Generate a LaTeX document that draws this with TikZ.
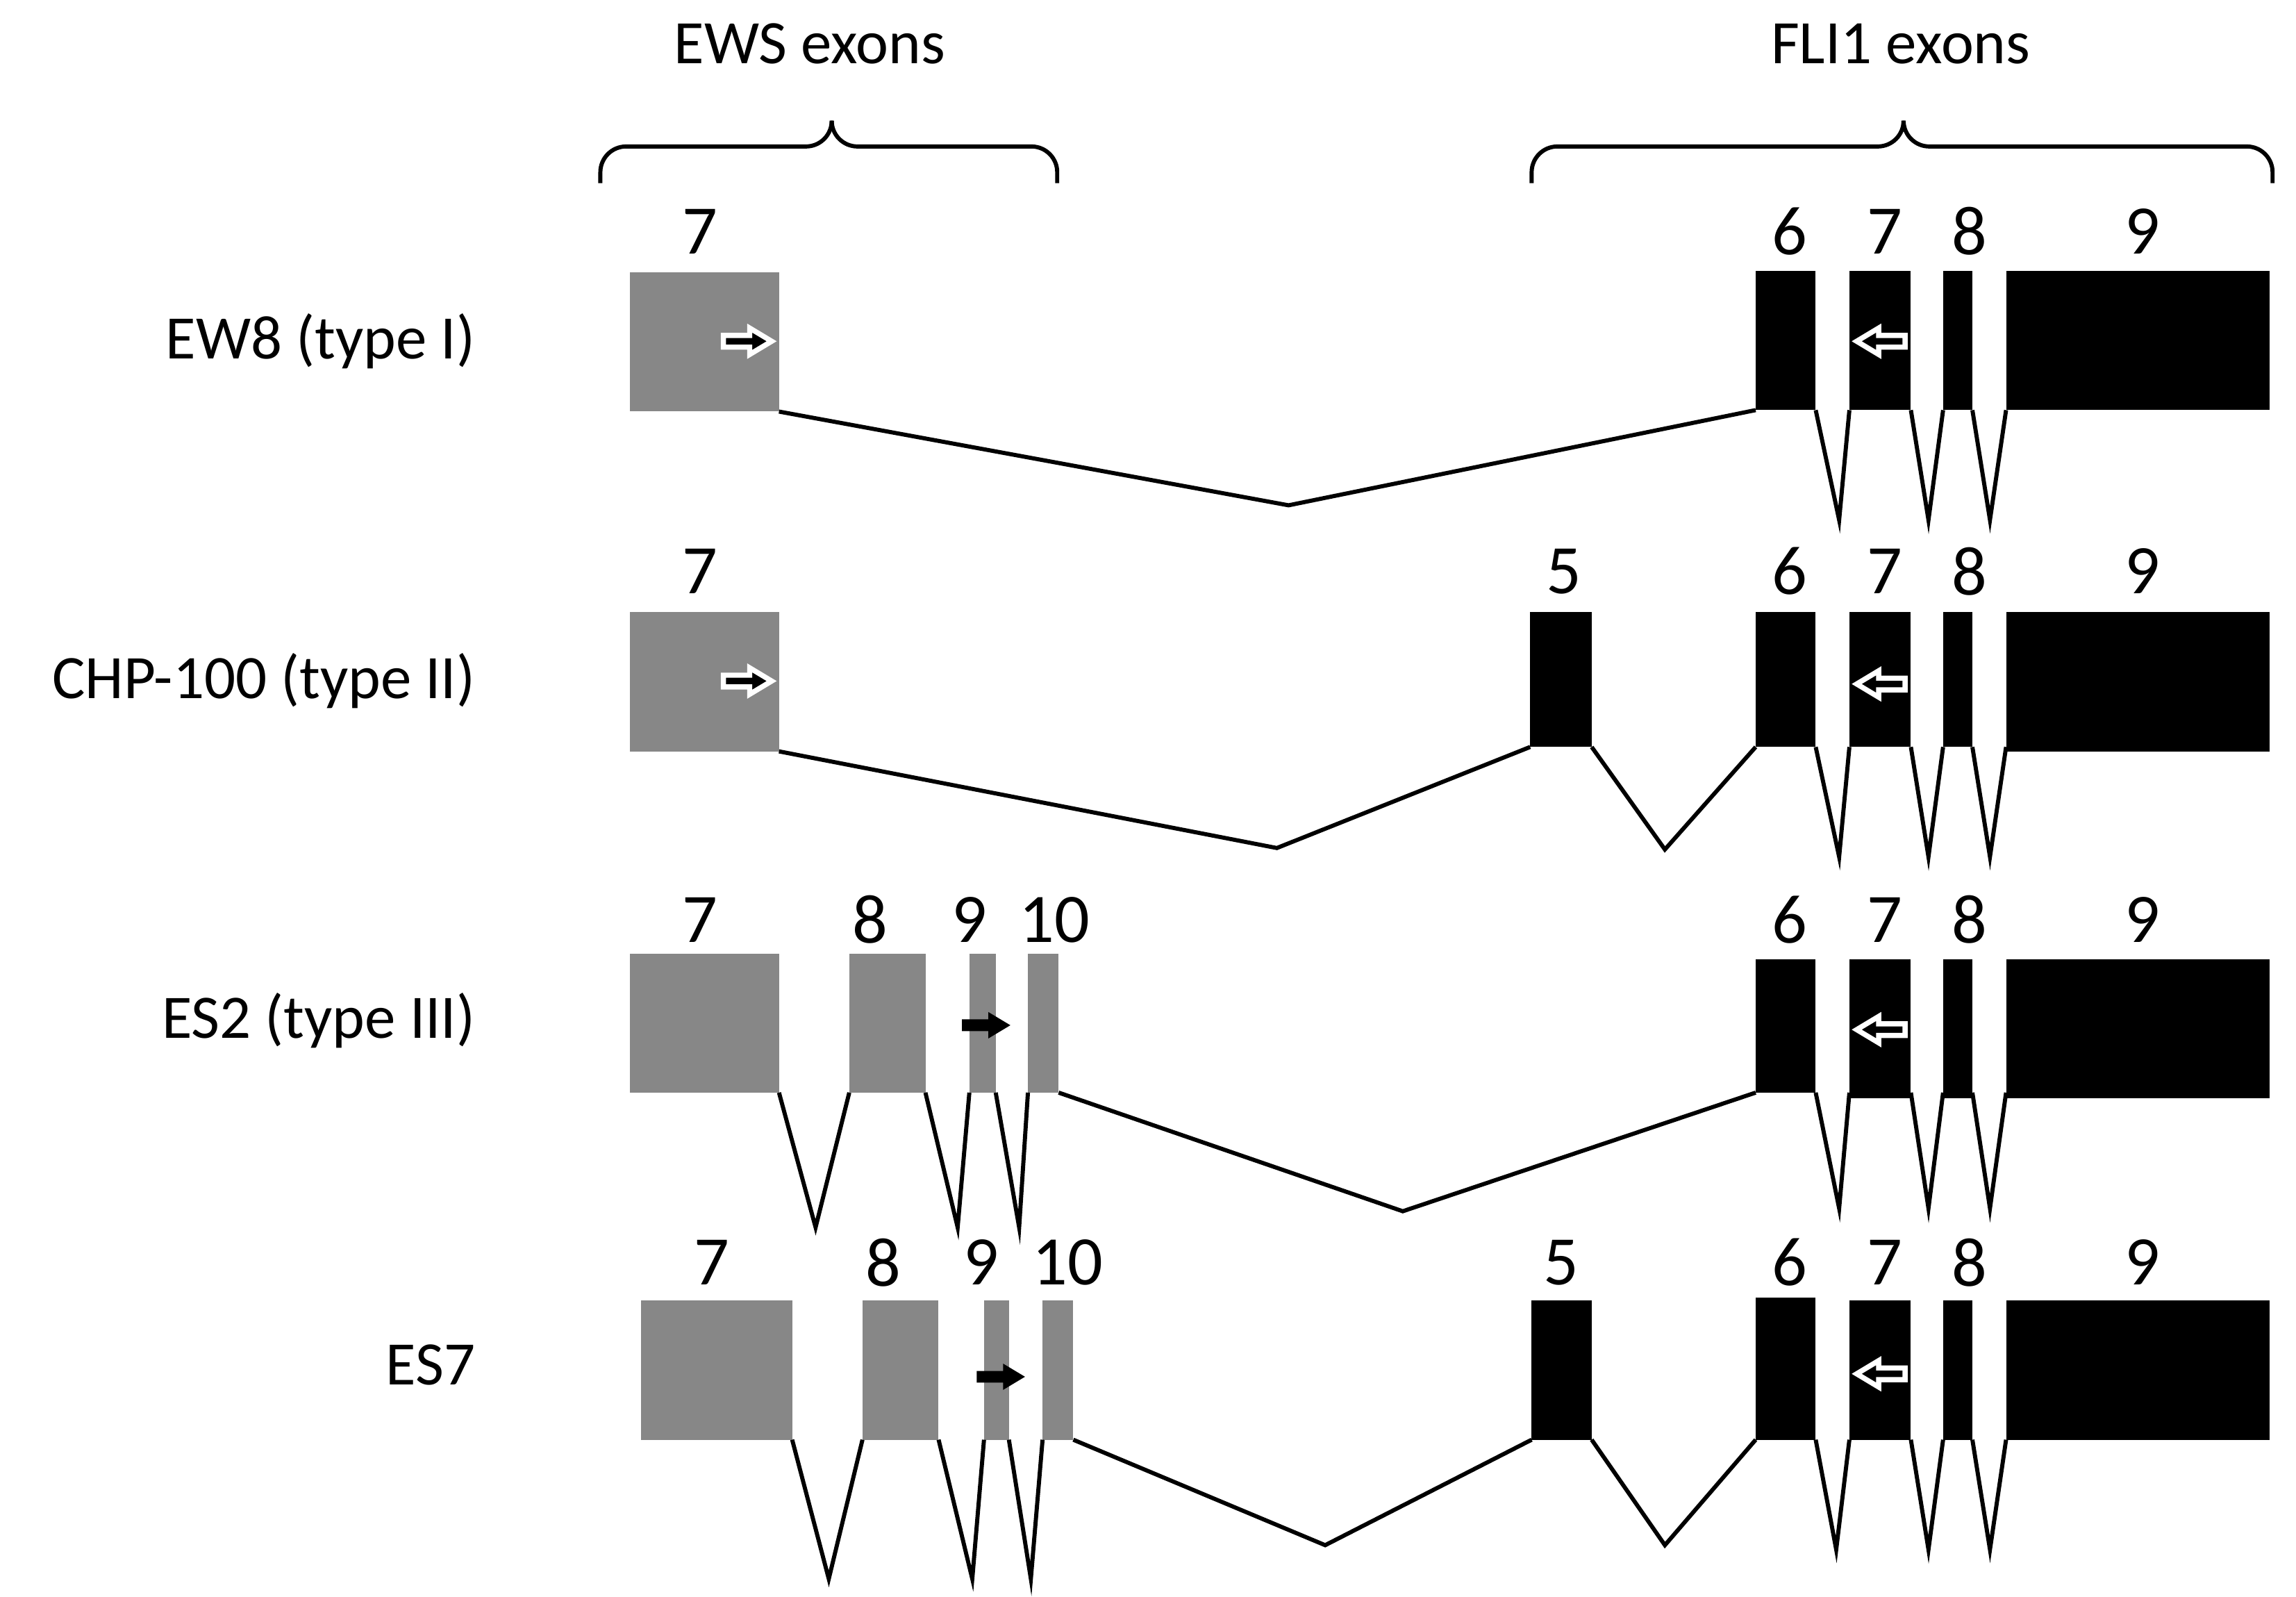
\documentclass[tikz,border=0pt]{standalone}
\usepackage{fontspec}
\setmainfont{Carlito}
\begin{document}
\begin{tikzpicture}[x=0.01cm,y=-0.01cm,
  ews/.style={fill=gray!100!white,fill=black!47,draw=none},
  fli/.style={fill=black,draw=none},
  ln/.style={line width=0.8pt},
  num/.style={font=\fontsize{13.5}{15}\selectfont,anchor=center},
  lab/.style={font=\fontsize{12}{14}\selectfont,anchor=east},
  arr/.pic={\path[pic actions] (-17,-4)--(1,-4)--(1,-9)--(16,0)--(1,9)--(1,4)--(-17,4)--cycle;}]
\useasboundingbox (0,0) rectangle (1568,1090);
% headers and braces
\node[font=\fontsize{12}{14}\selectfont] (hE) at (553,30) {EWS exons};
\node[font=\fontsize{12}{14}\selectfont] (hF) at (1298,30) {FLI1 exons};
\draw[ln,rounded corners=5] (410,125)--(410,100)--(568,100)--(568,86);
\draw[ln,rounded corners=5] (568,86)--(568,100)--(722,100)--(722,125);
\draw[ln,rounded corners=5] (1046,125)--(1046,100)--(1300,100)--(1300,86);
\draw[ln,rounded corners=5] (1300,86)--(1300,100)--(1552,100)--(1552,125);
% row labels
\node[lab] (l1) at (337,233) {EW8 (type I)};
\node[lab] (l2) at (337,465) {CHP-100 (type II)};
\node[lab] (l3) at (337,697) {ES2 (type III)};
\node[lab] (l4) at (337,932) {ES7};
% ===== Row 1
\fill[ews] (430,186) rectangle (532,281);
\node[num] at (478,158) {7};
\fill[fli] (1199,185) rectangle (1240,280);
\fill[fli] (1263,185) rectangle (1305,280);
\fill[fli] (1327,185) rectangle (1347,280);
\fill[fli] (1370,185) rectangle (1550,280);
\node[num] at (1222,158) {6};\node[num] at (1287,158) {7};
\node[num] at (1345,158) {8};\node[num] at (1463,158) {9};
\draw[ln] (532,281)--(880,345)--(1199,280);
\draw[ln] (1240,280)--(1256,355)--(1263,280);
\draw[ln] (1305,280)--(1317,355)--(1327,280);
\draw[ln] (1347,280)--(1359,355)--(1370,280);
\pic[fill=black,draw=white,line width=1pt] at (511,233) {arr};
\pic[fill=black,draw=white,line width=1pt,xscale=-1] at (1284,233) {arr};
% ===== Row 2
\fill[ews] (430,418) rectangle (532,513);
\node[num] at (478,390) {7};
\fill[fli] (1045,418) rectangle (1087,510);
\fill[fli] (1199,418) rectangle (1240,510);
\fill[fli] (1263,418) rectangle (1305,510);
\fill[fli] (1327,418) rectangle (1347,510);
\fill[fli] (1370,418) rectangle (1550,513);
\node[num] at (1068,390) {5};\node[num] at (1222,390) {6};\node[num] at (1287,390) {7};
\node[num] at (1345,390) {8};\node[num] at (1463,390) {9};
\draw[ln] (532,513)--(872,579)--(1045,510);
\draw[ln] (1087,510)--(1137,580)--(1199,510);
\draw[ln] (1240,510)--(1256,585)--(1263,510);
\draw[ln] (1305,510)--(1317,585)--(1327,510);
\draw[ln] (1347,510)--(1359,585)--(1370,510);
\pic[fill=black,draw=white,line width=1pt] at (511,465) {arr};
\pic[fill=black,draw=white,line width=1pt,xscale=-1] at (1284,467) {arr};
% ===== Row 3
\fill[ews] (430,651) rectangle (532,746);
\fill[ews] (580,651) rectangle (632,746);
\fill[ews] (662,651) rectangle (680,746);
\fill[ews] (702,651) rectangle (723,746);
\node[num] at (478,628) {7};\node[num] at (594,628) {8};
\node[num] at (662,628) {9};\node[num] at (720,628) {10};
\draw[ln] (532,746)--(557,838)--(580,746);
\draw[ln] (632,746)--(654,838)--(662,746);
\draw[ln] (680,746)--(696,838)--(702,746);
\draw[ln] (723,746)--(958,827)--(1199,746);
\fill[fli] (1199,655) rectangle (1240,746);
\fill[fli] (1263,655) rectangle (1305,750);
\fill[fli] (1327,655) rectangle (1347,750);
\fill[fli] (1370,655) rectangle (1550,750);
\node[num] at (1222,628) {6};\node[num] at (1287,628) {7};
\node[num] at (1345,628) {8};\node[num] at (1463,628) {9};
\draw[ln] (1240,746)--(1256,825)--(1263,746);
\draw[ln] (1305,746)--(1317,825)--(1327,746);
\draw[ln] (1347,746)--(1359,825)--(1370,746);
\pic[fill=black] at (674,700) {arr};
\pic[fill=black,draw=white,line width=1pt,xscale=-1] at (1284,703) {arr};
% ===== Row 4
\fill[ews] (438,888) rectangle (541,983);
\fill[ews] (589,888) rectangle (641,983);
\fill[ews] (672,888) rectangle (689,983);
\fill[ews] (712,888) rectangle (733,983);
\node[num] at (486,862) {7};\node[num] at (603,862) {8};
\node[num] at (670,862) {9};\node[num] at (729,862) {10};
\draw[ln] (541,983)--(566,1078)--(589,983);
\draw[ln] (641,983)--(664,1078)--(672,983);
\draw[ln] (689,983)--(704,1078)--(712,983);
\draw[ln] (733,983)--(905,1055)--(1046,983);
\fill[fli] (1046,888) rectangle (1087,983);
\fill[fli] (1199,886) rectangle (1240,983);
\fill[fli] (1263,888) rectangle (1305,983);
\fill[fli] (1327,888) rectangle (1347,983);
\fill[fli] (1370,888) rectangle (1550,983);
\node[num] at (1066,862) {5};\node[num] at (1222,862) {6};\node[num] at (1287,862) {7};
\node[num] at (1345,862) {8};\node[num] at (1463,862) {9};
\draw[ln] (1087,983)--(1137,1055)--(1199,983);
\draw[ln] (1240,983)--(1254,1058)--(1263,983);
\draw[ln] (1305,983)--(1317,1058)--(1327,983);
\draw[ln] (1347,983)--(1359,1058)--(1370,983);
\pic[fill=black] at (684,940) {arr};
\pic[fill=black,draw=white,line width=1pt,xscale=-1] at (1284,938) {arr};
\end{tikzpicture}
\end{document}
